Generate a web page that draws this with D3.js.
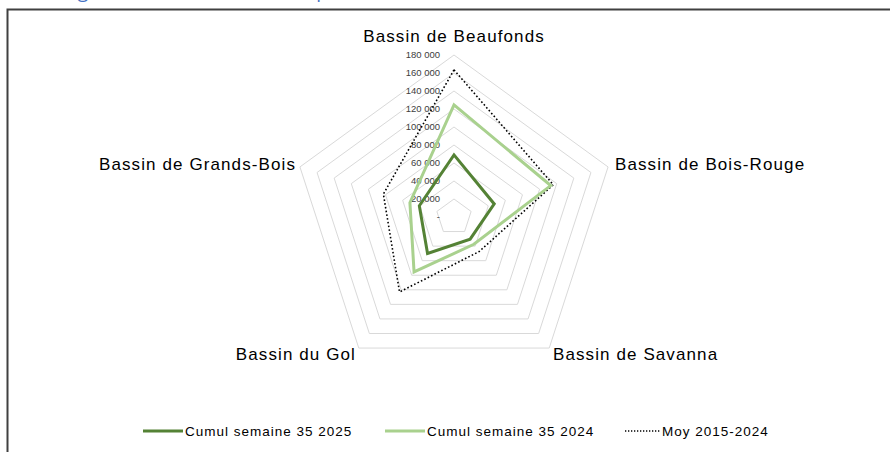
<!DOCTYPE html>
<html>
<head>
<meta charset="utf-8">
<script src="https://cdn.jsdelivr.net/npm/d3@7"></script>
<style>
  body { margin: 0; background: #fff; }
  svg { display: block; }
</style>
</head>
<body>
<div id="radar"></div>
<script>
var svgWidth = 890;
var svgHeight = 452;

// Data
var bassins = ["Bassin de Beaufonds", "Bassin de Bois-Rouge", "Bassin de Savanna", "Bassin du Gol", "Bassin de Grands-Bois"];
var cumul2025 = [69000, 47000, 30500, 50000, 40500];
var cumul2024 = [124500, 113000, 37500, 75500, 51500];
var moy2015_2024 = [163500, 116000, 47500, 103000, 82500];
var tickValues = [0, 20000, 40000, 60000, 80000, 100000, 120000, 140000, 160000, 180000];
var seriesNames = ["Cumul semaine 35 2025", "Cumul semaine 35 2024", "Moy 2015-2024"];

var cx = 454, cy = 217, radius = 162;

var svg = d3.select("#radar")
    .append("svg")
    .attr("width", svgWidth)
    .attr("height", svgHeight);

// heading above the chart frame, cut off by the top edge like in the source
svg.append("text")
    .attr("x", 22)
    .attr("y", -2)
    .attr("fill", "#4472C4")
    .attr("font-family", "Open Sans")
    .attr("font-size", 19)
    .text("Tonnage de cannes livré cumulé, par bassin");

// chart frame (only top and left visible)
svg.append("path")
    .attr("d", "M7.5,460 L7.5,9.5 L895,9.5")
    .attr("fill", "none")
    .attr("stroke", "#404040")
    .attr("stroke-width", 2);

var rScale = d3.scaleLinear()
    .domain([0, 180000])
    .range([0, radius]);

var angle = function(i) { return i * 2 * Math.PI / bassins.length; };

var radarLine = d3.lineRadial()
    .angle((d, i) => angle(i))
    .radius(d => rScale(d))
    .curve(d3.curveLinearClosed);

var g = svg.append("g")
    .attr("transform", `translate(${cx}, ${cy})`);

// grid pentagons
g.selectAll(".grid")
    .data(tickValues.slice(1))
    .enter()
    .append("path")
    .attr("class", "grid")
    .attr("d", t => radarLine(bassins.map(() => t)))
    .attr("fill", "none")
    .attr("stroke", "#d9d9d9")
    .attr("stroke-width", 1);

// tick labels along the top axis
g.selectAll(".tick")
    .data(tickValues)
    .enter()
    .append("text")
    .attr("class", "tick")
    .attr("x", -14)
    .attr("y", t => -rScale(t))
    .attr("dy", "0.35em")
    .attr("text-anchor", "end")
    .attr("font-family", "Liberation Sans, Arial")
    .attr("font-size", 9.5)
    .attr("fill", "#404040")
    .text(t => t === 0 ? "-" : d3.format(",")(t).replace(",", " "));

// series
var series = [
    {values: moy2015_2024, color: "#000", width: 1.6, dash: "1.6,2.2"},
    {values: cumul2024, color: "#A9D18E", width: 3, dash: null},
    {values: cumul2025, color: "#548235", width: 3, dash: null}
];

g.selectAll(".serie")
    .data(series)
    .enter()
    .append("path")
    .attr("class", "serie")
    .attr("d", s => radarLine(s.values))
    .attr("fill", "none")
    .attr("stroke", s => s.color)
    .attr("stroke-width", s => s.width)
    .attr("stroke-dasharray", s => s.dash)
    .attr("stroke-linejoin", "miter");

// category labels
var labelPos = [
    {x: 0, y: -175, anchor: "middle"},
    {x: 161, y: -47, anchor: "start"},
    {x: 99, y: 143, anchor: "start"},
    {x: -98, y: 143, anchor: "end"},
    {x: -158, y: -47, anchor: "end"}
];

g.selectAll(".cat")
    .data(bassins)
    .enter()
    .append("text")
    .attr("class", "cat")
    .attr("x", (d, i) => labelPos[i].x)
    .attr("y", (d, i) => labelPos[i].y)
    .attr("text-anchor", (d, i) => labelPos[i].anchor)
    .attr("font-family", "Liberation Sans, Arial")
    .attr("font-size", 17)
    .attr("letter-spacing", 1.1)
    .attr("fill", "#000")
    .text(d => d);

// legend
var legendItems = [
    {x: 143, color: "#548235", width: 3, dash: null, len: 40},
    {x: 385, color: "#A9D18E", width: 3, dash: null, len: 40},
    {x: 625, color: "#000", width: 1.3, dash: "1.3,1.7", len: 35}
];

var legend = svg.append("g").attr("transform", "translate(0, 431)");

legendItems.forEach((item, i) => {
    legend.append("line")
        .attr("x1", item.x)
        .attr("x2", item.x + item.len)
        .attr("y1", 0)
        .attr("y2", 0)
        .attr("stroke", item.color)
        .attr("stroke-width", item.width)
        .attr("stroke-dasharray", item.dash);
    legend.append("text")
        .attr("x", item.x + item.len + 2)
        .attr("y", 0)
        .attr("dy", "0.35em")
        .attr("font-family", "Liberation Sans, Arial")
        .attr("font-size", 13.5)
        .attr("letter-spacing", 1)
        .attr("fill", "#000")
        .text(seriesNames[i]);
});
</script>
</body>
</html>
